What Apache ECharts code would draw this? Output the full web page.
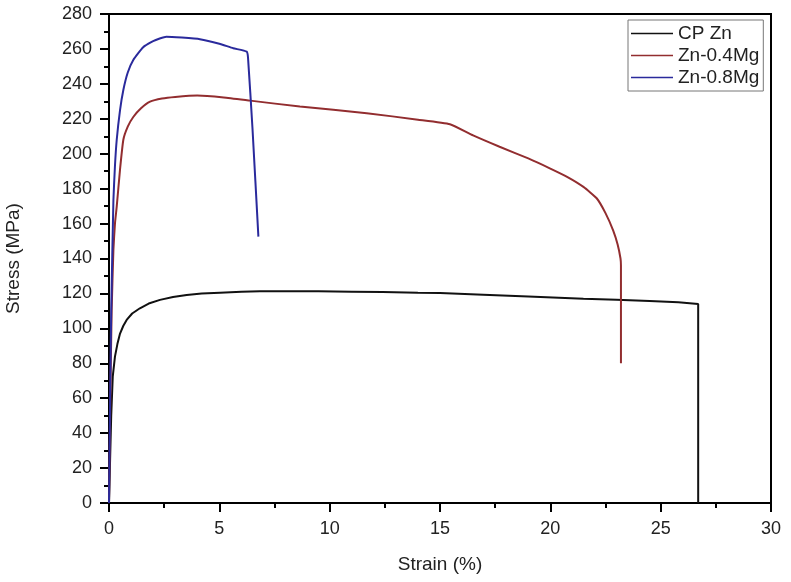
<!DOCTYPE html>
<html>
<head>
<meta charset="utf-8">
<script src="https://cdn.jsdelivr.net/npm/echarts@6/dist/echarts.min.js"></script>
<style>html,body{margin:0;padding:0;background:#fff;}#c{width:791px;height:582px;}</style>
</head>
<body>
<div id="c"></div>
<script>
// Data
const seriesNames = ['CP Zn', 'Zn-0.4Mg', 'Zn-0.8Mg'];
const xTicks = [0, 5, 10, 15, 20, 25, 30];
const yTicks = [0, 20, 40, 60, 80, 100, 120, 140, 160, 180, 200, 220, 240, 260, 280];

const cpZnStrain  = [0, 0.05, 0.1, 0.17, 0.27, 0.38, 0.5, 0.65, 0.8, 1.05, 1.4, 1.8, 2.31, 2.9, 3.52, 4.2, 5.03, 6.0, 6.84, 8.0, 9.5, 11.0, 12.4, 14.0, 15.0, 16.96, 19.0, 21.5, 23.0, 24.5, 25.8, 26.7, 26.7];
const cpZnStress  = [0, 25, 50, 72.3, 83.8, 91, 97, 101.5, 104.8, 108.5, 111.5, 114.2, 116.3, 117.9, 119.1, 119.9, 120.4, 120.9, 121.2, 121.3, 121.2, 121.0, 120.8, 120.4, 120.2, 119.3, 118.3, 117, 116.4, 115.7, 114.9, 114, 0];

const zn04Strain  = [0, 0.06, 0.12, 0.2, 0.27, 0.35, 0.5, 0.65, 0.85, 1.1, 1.45, 1.86, 2.4, 3.0, 4.0, 5.2, 6.4, 8.65, 11.68, 14.0, 15.45, 16.5, 17.7, 19.0, 20.0, 20.8, 21.5, 22.1, 22.5, 22.85, 23.05, 23.18, 23.2, 23.2];
const zn04Stress  = [0, 60, 110, 145, 160, 169.7, 191, 208, 215.5, 221, 226, 229.8, 231.6, 232.5, 233.3, 232.2, 230.4, 227, 223.2, 219.5, 216.9, 210.5, 204, 197.3, 191.5, 186.5, 181, 174.5, 166, 156, 148, 140, 136, 80];

const zn08Strain  = [0, 0.05, 0.1, 0.2, 0.27, 0.35, 0.5, 0.65, 0.85, 1.1, 1.55, 2.0, 2.6, 3.3, 4.12, 5.0, 5.63, 6.24, 6.3, 6.5, 6.77];
const zn08Stress  = [0, 60, 110, 173.5, 193, 208, 225, 236.5, 246.5, 253.7, 261, 264.5, 267, 266.5, 265.6, 263, 260.4, 258.5, 255, 215, 152.5];

const colors = ['#111111', '#922d2f', '#2a2a9c'];

function pairs(xs, ys) { return xs.map((x, i) => [x, ys[i]]); }

const chart = echarts.init(document.getElementById('c'), null, {renderer: 'canvas'});
const font = 'Liberation Sans, Arial, sans-serif';
chart.setOption({
  animation: false,
  backgroundColor: '#fff',
  grid: { left: 109, right: 20, top: 14, bottom: 79, show: true, borderColor: '#000', borderWidth: 2, backgroundColor: 'transparent', containLabel: false, outerBoundsMode: 'none' },
  legend: {
    orient: 'vertical', left: 628, top: 20,
    data: seriesNames,
    icon: 'rect', itemWidth: 42, itemHeight: 1.5, itemGap: 3,
    borderColor: '#777', borderWidth: 1, padding: [4, 4, 4, 3],
    textStyle: { fontFamily: font, fontSize: 19, color: '#222', lineHeight: 19 }
  },
  xAxis: {
    type: 'value', min: 0, max: 30, interval: 5,
    name: 'Strain (%)', nameLocation: 'middle', nameGap: 52,
    nameTextStyle: { fontFamily: font, fontSize: 19, color: '#222' },
    axisLine: { show: true, onZero: false, lineStyle: { color: '#000', width: 2 } },
    axisTick: { show: true, inside: false, length: 9, lineStyle: { color: '#000', width: 2 } },
    minorTick: { show: true, splitNumber: 2, length: 5, lineStyle: { color: '#000', width: 2 } },
    axisLabel: { fontFamily: font, fontSize: 18, color: '#222', margin: 17, formatter: v => xTicks.includes(v) ? String(v) : '' },
    splitLine: { show: false }
  },
  yAxis: {
    type: 'value', min: 0, max: 280, interval: 20,
    name: 'Stress (MPa)', nameLocation: 'middle', nameGap: 86,
    nameTextStyle: { fontFamily: font, fontSize: 19, color: '#222' },
    axisLine: { show: true, onZero: false, lineStyle: { color: '#000', width: 2 } },
    axisTick: { show: true, inside: false, length: 9, lineStyle: { color: '#000', width: 2 } },
    minorTick: { show: true, splitNumber: 2, length: 5, lineStyle: { color: '#000', width: 2 } },
    axisLabel: { fontFamily: font, fontSize: 18, color: '#222', margin: 17, formatter: v => yTicks.includes(v) ? String(v) : '' },
    splitLine: { show: false }
  },
  series: [
    { name: seriesNames[0], type: 'line', data: pairs(cpZnStrain, cpZnStress), showSymbol: false, smooth: false, color: colors[0], lineStyle: { width: 2 } },
    { name: seriesNames[1], type: 'line', data: pairs(zn04Strain, zn04Stress), showSymbol: false, smooth: 0.15, color: colors[1], lineStyle: { width: 2 } },
    { name: seriesNames[2], type: 'line', data: pairs(zn08Strain, zn08Stress), showSymbol: false, smooth: 0.15, color: colors[2], lineStyle: { width: 2 } }
  ]
});
</script>
</body>
</html>
